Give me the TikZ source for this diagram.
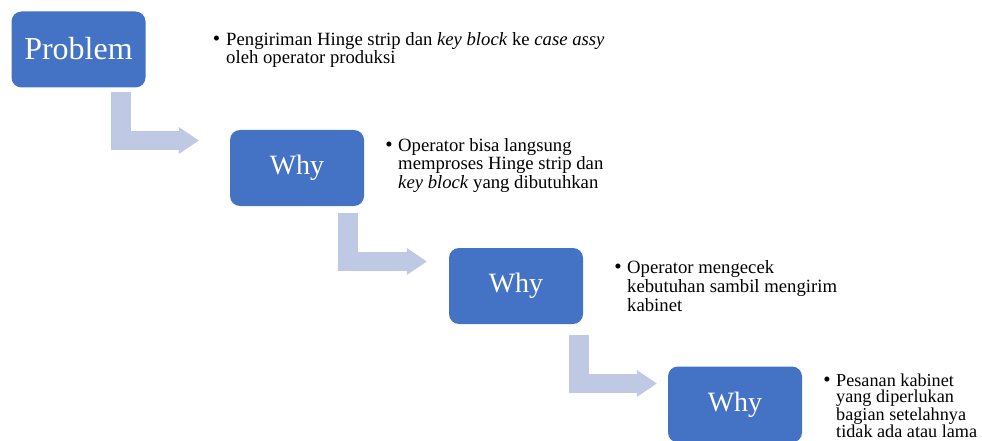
\documentclass[tikz,border=0pt]{standalone}
\usepackage{fontspec}
\setmainfont{Liberation Serif}
\usetikzlibrary{calc,arrows.meta}

\definecolor{boxblue}{HTML}{4472C4}
\definecolor{bendgray}{RGB}{192,201,228}

\tikzset{
  whybox/.style={fill=boxblue, draw=none, rounded corners=10pt, text=white,
    minimum width=134pt, minimum height=76pt, inner sep=0pt,
    font=\fontsize{28}{30}\selectfont},
  bentarrow/.style={draw=bendgray, line width=19.5pt, line join=miter,
    -{Triangle[line width=0pt, width=27pt, length=20pt]}},
  bulletmark/.style={anchor=base, inner sep=0pt, font=\fontsize{21}{21}\selectfont},
  notetext/.style={anchor=base west, inner sep=0pt, font=\fontsize{18.7}{18}\selectfont}
}

\begin{document}
\begin{tikzpicture}[x=1pt, y=-1pt]
  \useasboundingbox (0,0) rectangle (982,441);

  % the four process boxes
  \node[whybox, font=\fontsize{32}{34}\selectfont, text height=22pt, text depth=1pt]
    (prob) at (78.5,49.5) {Problem};
  \node[whybox] (why1) at (297,168) {Why};
  \node[whybox] (why2) at (516,286) {Why};
  \node[whybox] (why3) at (735,404.5) {Why};

  % bent connectors between the boxes
  \draw[bentarrow] ($(prob.south east)+(-24.5,4)$) |- ($(why1.west)+(-31,-27.5)$);
  \draw[bentarrow] ($(why1.south east)+(-16,7)$) |- ($(why2.west)+(-22,-24.5)$);
  \draw[bentarrow] ($(why2.south east)+(-4,11)$) |- ($(why3.west)+(-11,-21)$);

  % notes beside each box
  \node[bulletmark] (b0) at (216.5,46) {\textbullet};
  \node[notetext] (n0) at (226,46) {\parbox[t]{420pt}{\baselineskip=18pt
    Pengiriman Hinge strip dan \textit{key block} ke \textit{case assy}\\
    oleh operator produksi}};

  \node[bulletmark] (b1) at (389,151) {\textbullet};
  \node[notetext] (n1) at (398,151) {\parbox[t]{250pt}{\baselineskip=18.5pt
    Operator bisa langsung\\
    memproses Hinge strip dan\\
    \textit{key block} yang dibutuhkan}};

  \node[bulletmark] (b2) at (618,273.5) {\textbullet};
  \node[notetext] (n2) at (627,273.5) {\parbox[t]{250pt}{\baselineskip=18.8pt
    Operator mengecek\\
    kebutuhan sambil mengirim\\
    kabinet}};

  \node[bulletmark] (b3) at (827,386) {\textbullet};
  \node[notetext, font=\fontsize{18.2}{16.5}\selectfont] (n3) at (836,386)
    {\parbox[t]{150pt}{\baselineskip=16.5pt
    Pesanan kabinet\\
    yang diperlukan\\
    bagian setelahnya\\
    tidak ada atau lama}};
\end{tikzpicture}
\end{document}
